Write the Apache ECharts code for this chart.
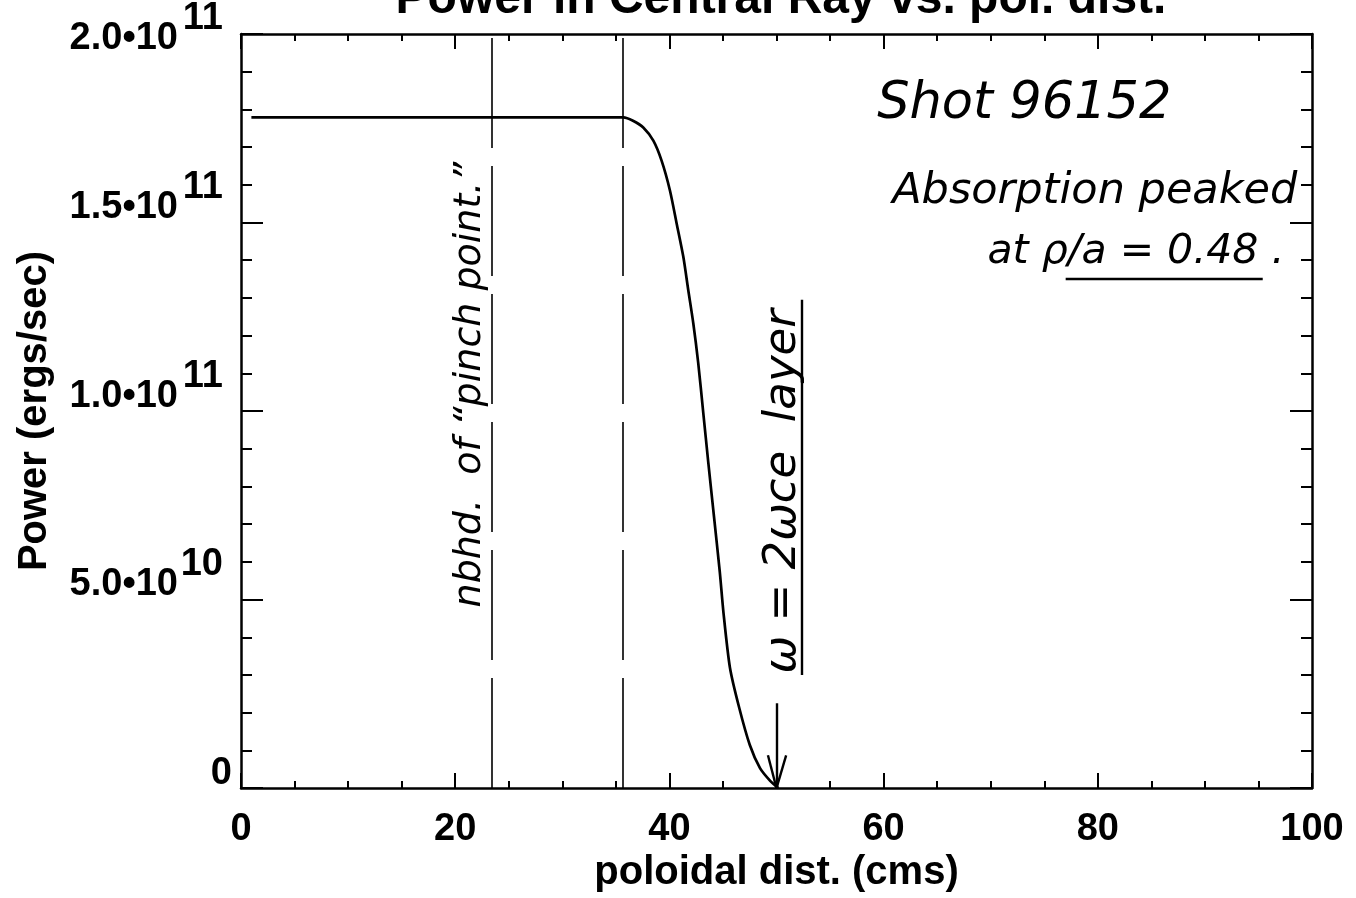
<!DOCTYPE html>
<html>
<head>
<meta charset="utf-8">
<script src="https://cdn.jsdelivr.net/npm/echarts@6/dist/echarts.min.js"></script>
<style>
  html, body { margin: 0; padding: 0; background: #fff; }
  #chart { width: 1356px; height: 898px; }
</style>
</head>
<body>
<div id="chart"></div>
<script>
// Poloidal distance along the central ray (cm)
const distCm = [0.97, 10, 20, 30, 35.7, 36.6, 37.56, 38.5, 39.27, 40.05, 40.68, 41.3, 41.76, 42.23,
                42.69, 43.16, 43.63, 44.16, 44.7, 45.05, 45.65, 46.5, 47.5, 48.46, 49.39, 50.17];
// Power still carried by the ray (ergs/sec)
const powerErgs = [1.779e11, 1.779e11, 1.779e11, 1.779e11, 1.779e11, 1.770e11, 1.752e11, 1.717e11,
                   1.664e11, 1.585e11, 1.497e11, 1.409e11, 1.321e11, 1.233e11, 1.128e11, 9.96e10,
                   8.64e10, 7.21e10, 5.75e10, 4.65e10, 3.2e10, 2.15e10, 1.15e10, 5.3e9, 2.0e9, 0];

// Axis ticks
const xTickValues = [0, 20, 40, 60, 80, 100];
const yTickLabels = ['0', '5.0\u202210^10', '1.0\u202210^11', '1.5\u202210^11', '2.0\u202210^11'];

// Dashed markers around the pinch point (cm)
const pinchMarks = [23.4, 35.6];
// Arrow pointing at the 2ωce layer: [x, yTop, yTip]
const layerArrow = [50.0, 2.25e10, 0];
// Underline beside the layer note: [x, yTop, yBottom]
const layerBar = [52.35, 1.295e11, 3.0e10];
// Underline under ρ/a = 0.48: [x0, x1, y]
const rhoBar = [77.0, 95.4, 1.35e11];

// Hand notes: text, anchor [x, y], rotation (deg), font size, horizontal alignment
const noteTexts = ['Shot 96152', 'Absorption peaked', 'at \u03c1/a = 0.48 .', '\u03c9 = 2\u03c9ce  layer', 'nbhd.  of \u201cpinch point.\u201d'];
const noteAnchors = [[59.4, 1.744e11], [60.8, 1.524e11], [69.7, 1.367e11], [50.6, 7.87e10], [21.4, 1.07e11]];
const noteAngles = [0, 0, 0, 90, 90];
const noteSizes = [51, 43, 41, 45, 38];
const noteAligns = ['left', 'left', 'left', 'center', 'center'];

const SANS = "'Liberation Sans', Arial, Helvetica, sans-serif";
const HAND = "'DejaVu Sans', sans-serif";
const INK = '#000';

const chart = echarts.init(document.getElementById('chart'), null, { renderer: 'canvas' });

const baseX = {
  type: 'value', min: 0, max: 100, interval: 20,
  axisLine: { show: true, onZero: false, lineStyle: { color: INK, width: 2.5 } },
  axisTick: { show: true, inside: true, length: 15, lineStyle: { color: INK, width: 2 } },
  minorTick: { show: true, splitNumber: 4, length: 7, lineStyle: { color: INK, width: 2 } },
  splitLine: { show: false }
};
const baseY = {
  type: 'value', min: 0, max: 2e11, interval: 5e10,
  axisLine: { show: true, onZero: false, lineStyle: { color: INK, width: 2.5 } },
  axisTick: { show: true, inside: true, length: 22, lineStyle: { color: INK, width: 2 } },
  minorTick: { show: true, splitNumber: 5, length: 11, lineStyle: { color: INK, width: 2 } },
  splitLine: { show: false }
};

const lineSeg = (a, b) => [{ coord: a }, { coord: b }];

const markData = [
  ...pinchMarks.map(x => ({ xAxis: x, lineStyle: { type: [110, 18], width: 1.6 } })),
  lineSeg([layerArrow[0], layerArrow[1]], [layerArrow[0], layerArrow[2]]),
  lineSeg([layerArrow[0] - 0.8, 8.7e9], [layerArrow[0], layerArrow[2]]),
  lineSeg([layerArrow[0] + 0.9, 8.7e9], [layerArrow[0], layerArrow[2]]),
  lineSeg([layerBar[0], layerBar[1]], [layerBar[0], layerBar[2]]),
  lineSeg([rhoBar[0], rhoBar[2]], [rhoBar[1], rhoBar[2]])
];

chart.setOption({
  animation: false,
  backgroundColor: '#fff',
  title: {
    text: 'Power in Central Ray vs. pol. dist.',
    left: 776, top: -29, textAlign: 'center',
    textStyle: { fontFamily: SANS, fontWeight: 'bold', fontSize: 48, color: INK }
  },
  grid: { left: 241, top: 33, width: 1071, height: 757, containLabel: false },
  xAxis: [
    Object.assign({}, baseX, {
      position: 'bottom',
      name: 'poloidal dist. (cms)', nameLocation: 'middle', nameGap: 57,
      nameTextStyle: { fontFamily: SANS, fontWeight: 'bold', fontSize: 40, color: INK },
      axisLabel: {
        show: true, margin: 22, color: INK, fontFamily: SANS, fontWeight: 'bold', fontSize: 38,
        formatter: v => (xTickValues.indexOf(v) >= 0 ? String(v) : '')
      }
    }),
    Object.assign({}, baseX, { position: 'top', axisLabel: { show: false } })
  ],
  yAxis: [
    Object.assign({}, baseY, {
      position: 'left',
      name: 'Power (ergs/sec)', nameLocation: 'middle', nameGap: 186, nameRotate: 90,
      nameTextStyle: { fontFamily: SANS, fontWeight: 'bold', fontSize: 40, color: INK },
      axisLabel: {
        show: true, margin: 9, color: INK, fontFamily: SANS, fontWeight: 'bold', fontSize: 38,
        verticalAlign: 'bottom', verticalAlignMaxLabel: 'middle',
        formatter: v => {
          const parts = yTickLabels[Math.round(v / 5e10)].split('^');
          return parts.length > 1 ? `{e|${parts[1]}}\n{m|${parts[0]}}` : `{z|${parts[0]}}`;
        },
        rich: {
          m: { fontFamily: SANS, fontWeight: 'bold', fontSize: 38, lineHeight: 30, padding: [0, 54, 0, 0], align: 'right', color: INK },
          e: { fontFamily: SANS, fontWeight: 'bold', fontSize: 38, lineHeight: 10, padding: [0, 9, 0, 0], align: 'right', color: INK },
          z: { fontFamily: SANS, fontWeight: 'bold', fontSize: 38, lineHeight: 30, align: 'right', color: INK }
        }
      }
    }),
    Object.assign({}, baseY, { position: 'right', axisLabel: { show: false } })
  ],
  series: [{
    type: 'line',
    data: distCm.map((x, i) => [x, powerErgs[i]]),
    showSymbol: false,
    smooth: 0.25,
    lineStyle: { color: INK, width: 2.7 },
    markLine: {
      silent: true,
      symbol: ['none', 'none'],
      label: { show: false },
      lineStyle: { color: INK, width: 2.4, type: 'solid' },
      data: markData
    }
  }]
});

// Hand-written notes, anchored in data coordinates
chart.setOption({
  graphic: noteTexts.map((t, i) => {
    const p = chart.convertToPixel({ gridIndex: 0 }, noteAnchors[i]);
    const rotated = noteAngles[i] !== 0;
    return {
      type: 'text', x: p[0], y: p[1],
      rotation: noteAngles[i] * Math.PI / 180,
      silent: true,
      style: {
        text: t, fill: INK,
        font: `italic 200 ${noteSizes[i]}px ${HAND}`,
        textAlign: noteAligns[i],
        textVerticalAlign: rotated ? 'middle' : 'bottom'
      }
    };
  })
});
</script>
</body>
</html>
